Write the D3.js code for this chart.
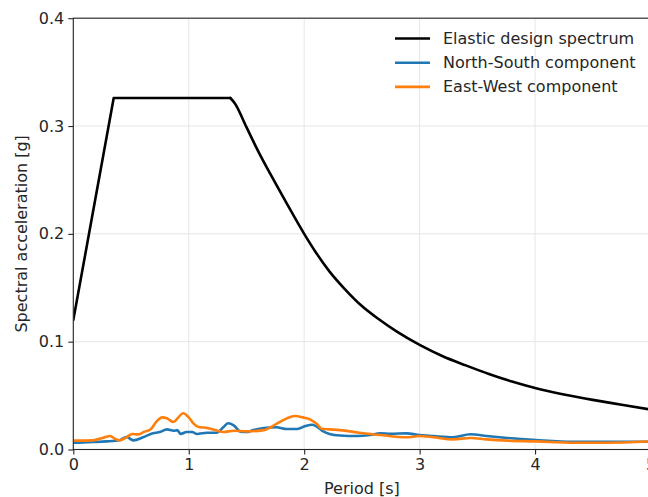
<!DOCTYPE html>
<html>
<head>
<meta charset="utf-8">
<script src="https://cdn.jsdelivr.net/npm/d3@7"></script>
<style>
  html, body { margin: 0; padding: 0; background: #fff; overflow: hidden; }
  svg { display: block; font-family: "DejaVu Sans", sans-serif; }
</style>
</head>
<body>
<svg id="chart" width="648" height="497"></svg>
<script>
// Elastic design spectrum (period in s, spectral acceleration in g)
const designPeriod = [0, 0.35, 1.36, 1.40, 1.50, 1.60, 1.72, 1.85, 2.00, 2.10, 2.22, 2.35, 2.50, 2.65, 2.80, 3.00, 3.20, 3.40, 3.60, 3.80, 4.00, 4.25, 4.50, 4.75, 5.00];
const designAccel  = [0.120, 0.326, 0.326, 0.321, 0.299, 0.277, 0.253, 0.228, 0.200, 0.183, 0.165, 0.149, 0.133, 0.1205, 0.1095, 0.097, 0.0865, 0.078, 0.070, 0.063, 0.057, 0.051, 0.046, 0.0415, 0.037];

// North-South component response spectrum
const nsPeriod = [0, 0.17, 0.29, 0.40, 0.46, 0.52, 0.61, 0.69, 0.75, 0.81, 0.87, 0.90, 0.93, 0.98, 1.03, 1.07, 1.16, 1.24, 1.30, 1.34, 1.39, 1.45, 1.50, 1.56, 1.65, 1.76, 1.85, 1.94, 2.01, 2.07, 2.11, 2.17, 2.22, 2.31, 2.46, 2.57, 2.66, 2.75, 2.89, 2.98, 3.12, 3.29, 3.44, 3.58, 3.76, 4.01, 4.33, 4.62, 5.00];
const nsAccel  = [0.0063, 0.0069, 0.0075, 0.0085, 0.0116, 0.0085, 0.0116, 0.0150, 0.0162, 0.0187, 0.0174, 0.0180, 0.0144, 0.0162, 0.0162, 0.0144, 0.0156, 0.0156, 0.0206, 0.0243, 0.0224, 0.0165, 0.0162, 0.0180, 0.0199, 0.0206, 0.0190, 0.0190, 0.0218, 0.0230, 0.0212, 0.0165, 0.0144, 0.0130, 0.0125, 0.0134, 0.0150, 0.0146, 0.0150, 0.0137, 0.0125, 0.0113, 0.0141, 0.0125, 0.0107, 0.0088, 0.0072, 0.0072, 0.0072];

// East-West component response spectrum
const ewPeriod = [0, 0.17, 0.26, 0.32, 0.36, 0.40, 0.46, 0.51, 0.56, 0.61, 0.67, 0.72, 0.77, 0.81, 0.87, 0.91, 0.95, 1.00, 1.04, 1.08, 1.16, 1.23, 1.30, 1.39, 1.50, 1.65, 1.76, 1.85, 1.92, 1.99, 2.05, 2.11, 2.15, 2.22, 2.31, 2.48, 2.66, 2.89, 3.00, 3.12, 3.29, 3.44, 3.58, 3.76, 4.01, 4.33, 4.62, 5.00];
const ewAccel  = [0.0082, 0.0085, 0.0110, 0.0125, 0.0100, 0.0085, 0.0113, 0.0144, 0.0140, 0.0162, 0.0187, 0.0258, 0.0298, 0.0289, 0.0255, 0.0298, 0.0336, 0.0298, 0.0243, 0.0212, 0.0199, 0.0180, 0.0162, 0.0174, 0.0168, 0.0180, 0.0237, 0.0289, 0.0310, 0.0298, 0.0280, 0.0237, 0.0193, 0.0187, 0.0180, 0.0156, 0.0134, 0.0113, 0.0125, 0.0113, 0.0094, 0.0107, 0.0094, 0.0082, 0.0075, 0.0063, 0.0063, 0.0075];

const xTicks = [0, 1, 2, 3, 4, 5];
const yTicks = [0, 0.1, 0.2, 0.3, 0.4];

const seriesNames  = ["Elastic design spectrum", "North-South component", "East-West component"];
const seriesColors = ["#000000", "#1f77b4", "#ff7f0e"];

const svg = d3.select("#chart");
const bounds = { left: 73.3, top: 18.2, right: 650.5, bottom: 449.5 };
const fontSize = "16px";

const x = d3.scaleLinear().domain([0, 5]).range([bounds.left, bounds.right]);
const y = d3.scaleLinear().domain([0, 0.4]).range([bounds.bottom, bounds.top]);

const textColor = "#262626";
const spineColor = "#262626";

// grid
const grid = svg.append("g");
grid.selectAll("line.vx").data(xTicks).join("line")
  .attr("x1", d => x(d)).attr("x2", d => x(d))
  .attr("y1", y(0)).attr("y2", y(0.4))
  .attr("stroke", "#e6e6e6").attr("stroke-width", 1);
grid.selectAll("line.hy").data(yTicks).join("line")
  .attr("y1", d => y(d)).attr("y2", d => y(d))
  .attr("x1", x(0)).attr("x2", x(5))
  .attr("stroke", "#e6e6e6").attr("stroke-width", 1);

const zip = (a, b) => a.map((v, i) => [v, b[i]]);
const design = zip(designPeriod, designAccel);
const ns = zip(nsPeriod, nsAccel);
const ew = zip(ewPeriod, ewAccel);

svg.append("defs").append("clipPath").attr("id", "plotclip")
  .append("rect").attr("x", x(0)).attr("y", y(0.4))
  .attr("width", x(5) - x(0)).attr("height", y(0) - y(0.4));

const plot = svg.append("g").attr("clip-path", "url(#plotclip)");

const smooth = d3.line().x(d => x(d[0])).y(d => y(d[1])).curve(d3.curveMonotoneX);
const straight = d3.line().x(d => x(d[0])).y(d => y(d[1])).curve(d3.curveLinear);

function drawPath(d, gen, color) {
  plot.append("path")
    .attr("d", gen(d))
    .attr("fill", "none")
    .attr("stroke", color)
    .attr("stroke-width", 2.6)
    .attr("stroke-linejoin", "round")
    .attr("stroke-linecap", "round");
}

drawPath(ns, smooth, seriesColors[1]);
drawPath(ew, smooth, seriesColors[2]);
// ramp and plateau are straight; the descending branch is a smooth curve
drawPath(design.slice(0, 3), straight, seriesColors[0]);
drawPath(design.slice(2), smooth, seriesColors[0]);

// spines
svg.append("rect")
  .attr("x", x(0)).attr("y", y(0.4))
  .attr("width", x(5) - x(0)).attr("height", y(0) - y(0.4))
  .attr("fill", "none").attr("stroke", spineColor).attr("stroke-width", 1.1);

// axes
const xAxis = d3.axisBottom(x).tickValues(xTicks).tickFormat(d3.format("d")).tickSize(5).tickPadding(4);
const yAxis = d3.axisLeft(y).tickValues(yTicks).tickFormat(d3.format(".1f")).tickSize(5).tickPadding(4);

const gx = svg.append("g").attr("transform", `translate(0,${y(0)})`).call(xAxis);
const gy = svg.append("g").attr("transform", `translate(${x(0)},0)`).call(yAxis);
[gx, gy].forEach(g => {
  g.select(".domain").remove();
  g.selectAll(".tick line").attr("stroke", spineColor).attr("stroke-width", 1.1);
  g.selectAll(".tick text").attr("fill", textColor)
    .style("font-size", fontSize).style("font-family", "DejaVu Sans, sans-serif");
});

// axis labels
svg.append("text")
  .attr("x", (x(0) + x(5)) / 2).attr("y", 494)
  .attr("text-anchor", "middle").attr("fill", textColor)
  .style("font-size", fontSize).text("Period [s]");
svg.append("text")
  .attr("transform", `translate(27,${(y(0) + y(0.4)) / 2}) rotate(-90)`)
  .attr("text-anchor", "middle").attr("fill", textColor)
  .style("font-size", fontSize).text("Spectral acceleration [g]");

// legend
const legend = svg.append("g");
seriesNames.forEach((name, i) => {
  const ly = 38.5 + i * 24.2;
  legend.append("line")
    .attr("x1", 395).attr("x2", 430).attr("y1", ly).attr("y2", ly)
    .attr("stroke", seriesColors[i]).attr("stroke-width", 2.6);
  legend.append("text")
    .attr("x", 443).attr("y", ly + 5.5)
    .attr("fill", textColor).style("font-size", fontSize).text(name);
});
</script>
</body>
</html>
